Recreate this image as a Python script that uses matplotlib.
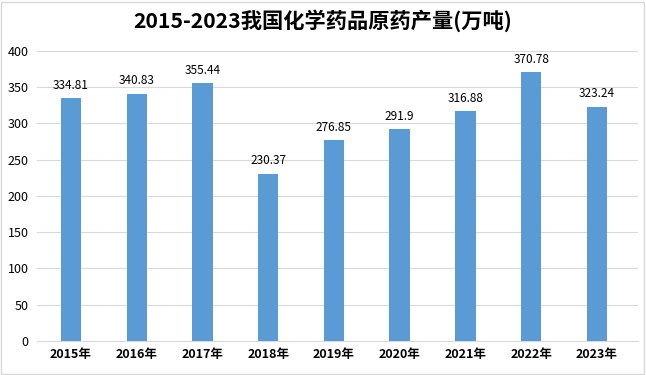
import matplotlib.pyplot as plt
from matplotlib.patches import Rectangle

plt.rcParams['font.family'] = ['Noto Sans CJK SC', 'DejaVu Sans']

years = ['2015年', '2016年', '2017年', '2018年', '2019年', '2020年', '2021年', '2022年', '2023年']
output = [334.81, 340.83, 355.44, 230.37, 276.85, 291.9, 316.88, 370.78, 323.24]
value_labels = ['334.81', '340.83', '355.44', '230.37', '276.85', '291.9', '316.88', '370.78', '323.24']

fig = plt.figure(figsize=(6.46, 3.75), dpi=100)
ax = fig.add_axes([0.057, 0.091, 0.931, 0.773])

x = list(range(len(years)))
ax.bar(x, output, width=0.31, color='#5B9BD5', zorder=3)
for xi, v, s in zip(x, output, value_labels):
    ax.text(xi, v + 9, s, ha='center', va='bottom', fontsize=8.5, color='#000000',
            fontweight='medium')

ax.set_ylim(0, 400)
ax.set_yticks(range(0, 401, 50))
ax.set_xlim(-0.52, 8.63)
ax.set_xticks(x)
ax.set_xticklabels(years, fontsize=9, fontweight='bold')
ax.tick_params(axis='y', labelsize=9, length=0, pad=6)
ax.tick_params(axis='x', length=0, pad=5)
ax.grid(axis='y', color='#D9D9D9', linewidth=0.8, zorder=0)
for sp in ['top', 'right', 'left']:
    ax.spines[sp].set_visible(False)
ax.spines['bottom'].set_color('#D9D9D9')

fig.text(0.5, 0.946, '2015-2023我国化学药品原药产量(万吨)', ha='center', va='center',
         fontsize=15.3, fontweight='bold')
fig.patches.append(Rectangle((0.002, 0.003), 0.995, 0.993, transform=fig.transFigure,
                             fill=False, edgecolor='#D9D9D9', linewidth=1))

fig.savefig('out.png', dpi=100)
